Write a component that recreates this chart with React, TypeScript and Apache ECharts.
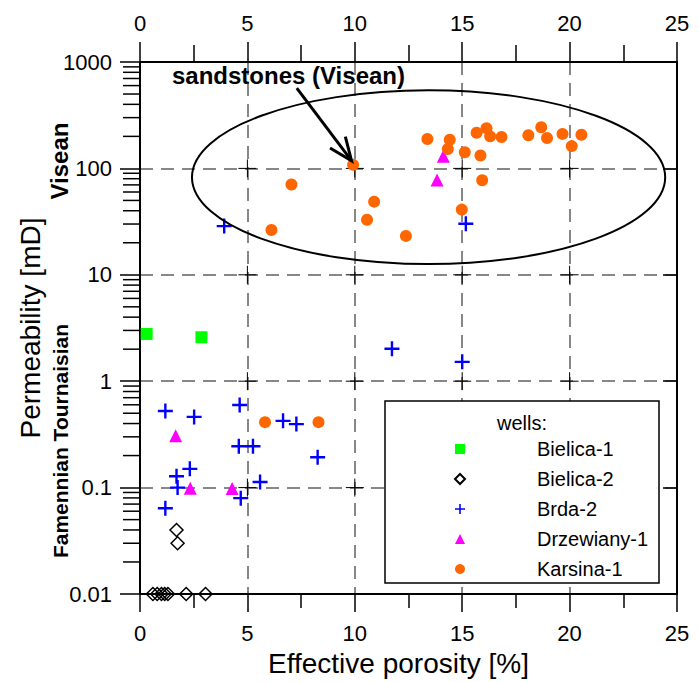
import React, { useEffect, useRef } from "react";
import * as echarts from "echarts";

// ---- axis ticks ----
const xTickValues = [0, 5, 10, 15, 20, 25];
const yTickLabels = ["0.01", "0.1", "1", "10", "100", "1000"];
const xGridValues = [5, 10, 15, 20];
const yGridValues = [0.1, 1, 10, 100];
const decades = [-2, -1, 0, 1, 2];
const minorMultipliers = [2, 3, 4, 5, 6, 7, 8, 9];

// ---- data: [effective porosity %, permeability mD] ----
const bielica1 = [
  [0.31, 2.78],
  [2.86, 2.59],
];
const bielica2 = [
  [1.7, 0.04],
  [1.75, 0.03],
  [0.6, 0.01],
  [0.8, 0.01],
  [1.0, 0.01],
  [1.15, 0.01],
  [1.3, 0.01],
  [2.15, 0.01],
  [3.05, 0.01],
];
const brda2 = [
  [3.92, 28.7],
  [15.17, 30.2],
  [11.73, 2.02],
  [15.0, 1.52],
  [1.18, 0.525],
  [2.52, 0.462],
  [4.64, 0.597],
  [6.66, 0.424],
  [7.28, 0.395],
  [4.6, 0.245],
  [5.26, 0.245],
  [8.27, 0.193],
  [1.7, 0.128],
  [2.32, 0.15],
  [1.75, 0.1],
  [5.59, 0.113],
  [4.69, 0.0796],
  [1.18, 0.064],
];
const drzewiany1 = [
  [14.12, 130],
  [13.83, 78],
  [1.66, 0.307],
  [2.34, 0.0986],
  [4.29, 0.098],
];
const karsina1 = [
  [13.38, 189],
  [14.42, 186],
  [14.33, 152],
  [15.67, 216],
  [16.13, 239],
  [16.3, 200],
  [16.83, 197],
  [15.12, 142],
  [15.85, 132],
  [18.08, 205],
  [18.68, 244],
  [18.95, 193],
  [19.67, 211],
  [20.55, 207],
  [20.1, 162],
  [9.92, 108],
  [7.05, 70.5],
  [15.93, 77.4],
  [10.9, 48.7],
  [10.57, 32.9],
  [14.98, 41],
  [6.12, 26.4],
  [12.38, 23.2],
  [5.82, 0.412],
  [8.31, 0.412],
];
const wellNames = ["Bielica-1", "Bielica-2", "Brda-2", "Drzewiany-1", "Karsina-1"];

// ---- annotation anchors (data units) ----
const ellipseX = [2.42, 24.45];
const ellipseY = [12.6, 542];
const arrowFrom = [7.3, 569];
const arrowTo = [9.85, 118];
const noteAnchor = [1.49, 739];
const noteText = "sandstones (Visean)";

const FONT = "'Liberation Sans', Arial, Helvetica, sans-serif";
const PLUS = "path://M-0.16,-1H0.16V-0.16H1V0.16H0.16V1H-0.16V0.16H-1V-0.16H-0.16Z";

export default function App() {
  const ref = useRef<HTMLDivElement>(null);
  useEffect(() => {
    if (!ref.current) return;
    const chart = echarts.init(ref.current, undefined, { renderer: "svg" });

    const crossVals: number[][] = [];
    xGridValues.forEach((x) => yGridValues.forEach((y) => crossVals.push([x, y])));

    const tickLine = { color: "#000", width: 1.5 };
    const gridLine = { color: "#606060", width: 1.5, type: [13, 8] as any };
    const yFormatter = (v: number) => {
      const i = Math.round(Math.log10(v)) + 2;
      return yTickLabels[i] ?? "";
    };

    const option: any = {
      animation: false,
      textStyle: { fontFamily: FONT },
      grid: { left: 140, right: 22, top: 62, bottom: 84, containLabel: false },
      xAxis: [
        {
          type: "value",
          min: xTickValues[0],
          max: xTickValues[xTickValues.length - 1],
          interval: 5,
          position: "bottom",
          axisLine: { show: true, onZero: false, lineStyle: { color: "#000", width: 2 } },
          axisTick: { show: true, length: 18, lineStyle: tickLine },
          minorTick: { show: true, splitNumber: 2, length: 14, lineStyle: tickLine },
          axisLabel: { fontSize: 22, color: "#000", margin: 28, fontFamily: FONT },
          splitLine: { show: true, lineStyle: gridLine },
          name: "Effective porosity [%]",
          nameLocation: "middle",
          nameGap: 55,
          nameTextStyle: { fontSize: 28, color: "#000", fontFamily: FONT, padding: [0, 20, 0, 0] },
        },
        {
          type: "value",
          min: xTickValues[0],
          max: xTickValues[xTickValues.length - 1],
          interval: 5,
          position: "top",
          axisLine: { show: true, onZero: false, lineStyle: { color: "#000", width: 2 } },
          axisTick: { show: true, length: 20, lineStyle: tickLine },
          minorTick: { show: true, splitNumber: 2, length: 17, lineStyle: tickLine },
          axisLabel: { fontSize: 22, color: "#000", margin: 28, fontFamily: FONT },
          splitLine: { show: false },
        },
      ],
      yAxis: [
        {
          type: "log",
          logBase: 10,
          min: 0.01,
          max: 1000,
          position: "left",
          axisLine: { show: true, onZero: false, lineStyle: { color: "#000", width: 2 } },
          axisTick: { show: true, length: 20, lineStyle: tickLine },
          axisLabel: { fontSize: 22, color: "#000", margin: 28, fontFamily: FONT, formatter: yFormatter },
          splitLine: { show: true, lineStyle: gridLine },
          name: "Permeability [mD]",
          nameLocation: "middle",
          nameGap: 96,
          nameTextStyle: { fontSize: 28, color: "#000", fontFamily: FONT },
        },
        {
          type: "log",
          logBase: 10,
          min: 0.01,
          max: 1000,
          position: "right",
          axisLine: { show: true, onZero: false, lineStyle: { color: "#000", width: 2 } },
          axisTick: { show: true, inside: true, length: 14, lineStyle: tickLine },
          axisLabel: { show: false },
          splitLine: { show: false },
        },
      ],
      legend: {
        orient: "vertical",
        left: 454,
        top: 401,
        padding: [38, 0, 0, 0],
        itemWidth: 10,
        itemHeight: 10,
        itemGap: 10,
        selectedMode: false,
        data: wellNames,
        textStyle: { fontSize: 20, color: "#000", lineHeight: 20, fontFamily: FONT, padding: [0, 0, 0, 67] },
        z: 10,
      },
      series: [
        {
          name: "grid-crosses",
          type: "custom",
          coordinateSystem: "cartesian2d",
          silent: true,
          z: 1,
          data: crossVals,
          renderItem: (_p: any, api: any) => {
            const p = api.coord([api.value(0), api.value(1)]);
            return {
              type: "group",
              children: [
                { type: "line", shape: { x1: p[0] - 9, y1: p[1], x2: p[0] + 9, y2: p[1] }, style: { stroke: "#000", lineWidth: 1 } },
                { type: "line", shape: { x1: p[0], y1: p[1] - 9, x2: p[0], y2: p[1] + 9 }, style: { stroke: "#000", lineWidth: 1 } },
              ],
            };
          },
        },
        {
          name: "Bielica-1",
          type: "scatter",
          data: bielica1,
          symbol: "rect",
          symbolSize: 12,
          itemStyle: { color: "#00ff00", opacity: 1 },
          z: 4,
        },
        {
          name: "Bielica-2",
          type: "scatter",
          data: bielica2,
          symbol: "diamond",
          symbolSize: 13,
          itemStyle: { color: "transparent", borderColor: "#000", borderWidth: 1.5, opacity: 1 },
          z: 4,
        },
        {
          name: "Brda-2",
          type: "scatter",
          data: brda2,
          symbol: PLUS,
          symbolSize: 15,
          itemStyle: { color: "#0000ff", opacity: 1 },
          z: 4,
        },
        {
          name: "Drzewiany-1",
          type: "scatter",
          data: drzewiany1,
          symbol: "triangle",
          symbolSize: 13,
          itemStyle: { color: "#ff00ff", opacity: 1 },
          z: 4,
        },
        {
          name: "Karsina-1",
          type: "scatter",
          data: karsina1,
          symbol: "circle",
          symbolSize: 12,
          itemStyle: { color: "#ff6600", opacity: 1 },
          z: 4,
        },
      ],
    };
    chart.setOption(option);

    const px = (v: number[]) => chart.convertToPixel({ gridIndex: 0 }, v) as number[];

    const els: any[] = [];
    // minor log ticks on the left axis (2..9 per decade); axis x found by linear extrapolation
    decades.forEach((k) =>
      minorMultipliers.forEach((m, j) => {
        const v = m * Math.pow(10, k);
        const pa = px([xGridValues[0], v]);
        const pb = px([xGridValues[1], v]);
        const x0 = pa[0] - (pb[0] - pa[0]);
        const y0 = pa[1];
        els.push({
          id: `minor-${k}-${j}`,
          type: "line",
          z: 100,
          shape: { x1: x0 - 17, y1: y0, x2: x0 + 1, y2: y0 },
          style: { stroke: "#000", lineWidth: 1.5 },
        });
      })
    );

    const eA = px([ellipseX[0], ellipseY[1]]);
    const eB = px([ellipseX[1], ellipseY[0]]);
    const from = px(arrowFrom);
    const to = px(arrowTo);
    const note = px(noteAnchor);
    const ang = Math.atan2(to[1] - from[1], to[0] - from[0]);
    const L = 25;
    const a = (22.5 * Math.PI) / 180;
    const arm1 = [to[0] - L * Math.cos(ang - a), to[1] - L * Math.sin(ang - a)];
    const arm2 = [to[0] - L * Math.cos(ang + a), to[1] - L * Math.sin(ang + a)];

    els.push(
      {
        type: "ellipse",
        shape: { cx: (eA[0] + eB[0]) / 2, cy: (eA[1] + eB[1]) / 2, rx: (eB[0] - eA[0]) / 2, ry: (eB[1] - eA[1]) / 2 },
        style: { fill: "none", stroke: "#000", lineWidth: 2 },
        z: 5,
        silent: true,
      },
      {
        type: "line",
        shape: { x1: from[0], y1: from[1], x2: to[0] - 2 * Math.cos(ang), y2: to[1] - 2 * Math.sin(ang) },
        style: { stroke: "#000", lineWidth: 3 },
        z: 5,
        silent: true,
      },
      {
        type: "polyline",
        shape: { points: [arm1, to, arm2] },
        style: { stroke: "#000", lineWidth: 3, fill: "none" },
        z: 5,
        silent: true,
      },
      {
        type: "text",
        x: note[0],
        y: note[1],
        style: { text: noteText, font: `bold 24px ${FONT}`, fill: "#000", textAlign: "left", textVerticalAlign: "middle" },
        z: 5,
        silent: true,
      },
      {
        type: "text",
        x: 59,
        y: 161,
        rotation: Math.PI / 2,
        style: { text: "Visean", font: `bold 24px ${FONT}`, fill: "#000", textAlign: "center", textVerticalAlign: "middle" },
        silent: true,
      },
      {
        type: "text",
        x: 60,
        y: 441,
        rotation: Math.PI / 2,
        style: { text: "Famennian Tournaisian", font: `bold 21px ${FONT}`, fill: "#000", textAlign: "center", textVerticalAlign: "middle" },
        silent: true,
      },
      {
        type: "rect",
        shape: { x: 385, y: 401, width: 274, height: 182 },
        style: { fill: "#fff", stroke: "#000", lineWidth: 1.5 },
        z: 6,
        silent: true,
      },
      {
        type: "text",
        x: 522,
        y: 423,
        style: { text: "wells:", font: `20px ${FONT}`, fill: "#000", textAlign: "center", textVerticalAlign: "middle" },
        z: 7,
        silent: true,
      }
    );

    chart.setOption({ graphic: els });

    return () => chart.dispose();
  }, []);

  return (
    <div
      ref={ref}
      style={{ position: "absolute", left: 0, top: 0, width: 699, height: 682, background: "#fff" }}
    />
  );
}
